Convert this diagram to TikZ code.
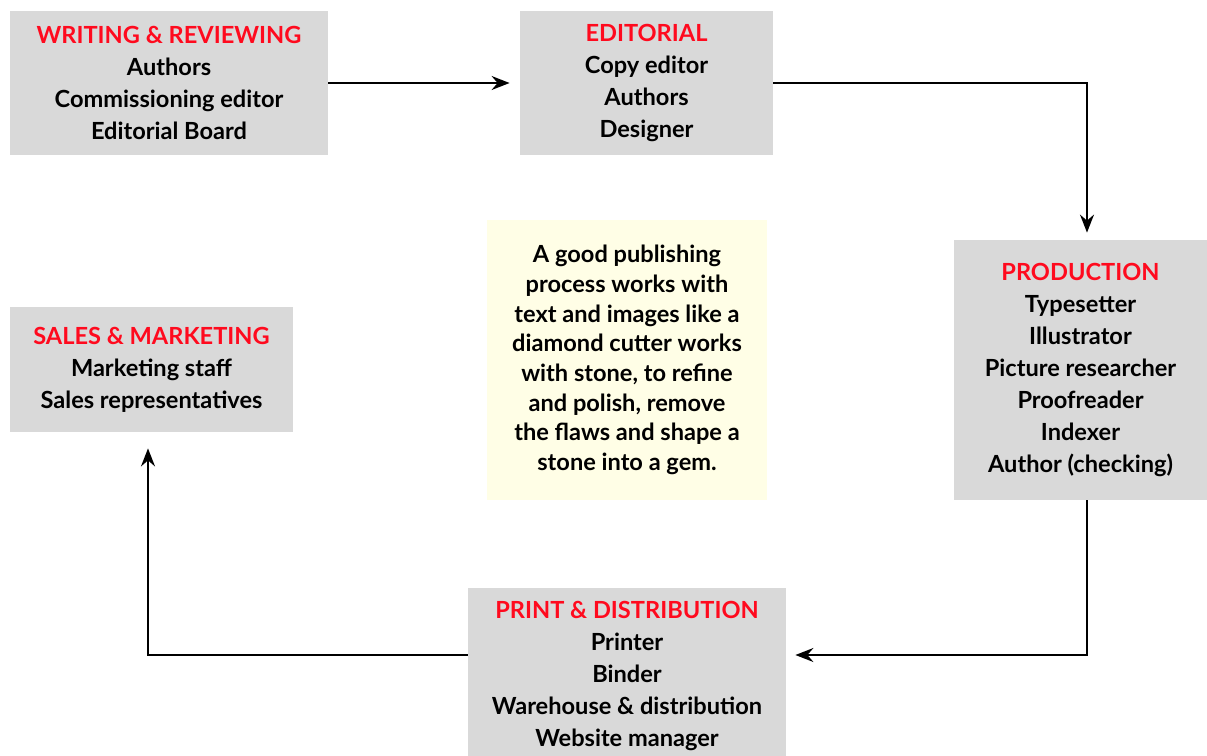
\documentclass[tikz,border=0pt]{standalone}
\usepackage{fontspec}
\setmainfont{Lato}
\usetikzlibrary{arrows.meta}
\newcommand{\hd}[1]{\textcolor{rd}{#1}}
\begin{document}
\begin{tikzpicture}[x=0.5pt,y=-0.5pt,font=\fontsize{11.8}{16}\selectfont\bfseries,
  box/.style={fill=gb,inner sep=0pt,align=center},
  flow/.style={line width=1pt,-{Stealth[length=9pt,width=7pt,inset=3pt]}}]
  \definecolor{gb}{HTML}{D9D9D9}
  \definecolor{rd}{HTML}{FF0A1E}
  \definecolor{nt}{HTML}{FFFEE6}
  \useasboundingbox (0,0) rectangle (1207,756);
  % stages
  \node[box,minimum width=159pt,minimum height=72pt] (wr) at (169,83)
    {\hd{WRITING \& REVIEWING}\\Authors\\Commissioning editor\\Editorial Board};
  \node[box,minimum width=126.5pt,minimum height=72pt] (ed) at (646.5,83)
    {\hd{EDITORIAL}\\Copy editor\\Authors\\Designer};
  \node[box,minimum width=126.5pt,minimum height=130pt] (pr) at (1080.5,370)
    {\hd{PRODUCTION}\\Typesetter\\Illustrator\\Picture researcher\\Proofreader\\Indexer\\Author (checking)};
  \node[box,minimum width=159pt,minimum height=88pt] (pd) at (627,676)
    {\hd{PRINT \& DISTRIBUTION}\\Printer\\Binder\\Warehouse \& distribution\\Website manager};
  \node[box,minimum width=141.5pt,minimum height=62.5pt] (sm) at (151.5,369.5)
    {\hd{SALES \& MARKETING}\\Marketing staff\\Sales representatives};
  % note
  \node[fill=nt,inner sep=0pt,align=center,minimum width=140pt,minimum height=140pt,
    font=\fontsize{11.8}{14.85}\selectfont\bfseries] (nb) at (627,360)
    {A good publishing\\process works with\\text and images like a\\diamond cutter works\\with stone, to refine\\and polish, remove\\the flaws and shape a\\stone into a gem.};
  % arrows
  \draw[flow,shorten >=5pt] (wr) -- (ed);
  \draw[flow,shorten >=3.5pt] (ed.east) -| ([xshift=3.25pt]pr.north);
  \draw[flow,shorten >=4.5pt] ([xshift=3.25pt]pr.south) |- ([yshift=10.5pt]pd.east);
  \draw[flow,shorten >=8pt] ([yshift=10.5pt]pd.west) -| ([xshift=-1.75pt]sm.south);
\end{tikzpicture}
\end{document}
